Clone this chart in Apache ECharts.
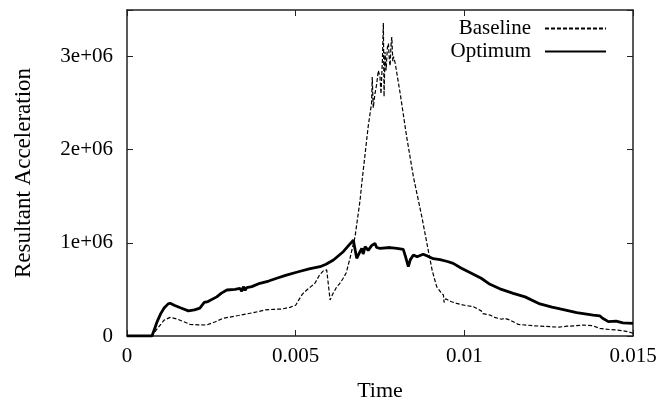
<!DOCTYPE html>
<html>
<head>
<meta charset="utf-8">
<script src="https://cdn.jsdelivr.net/npm/echarts@6/dist/echarts.min.js"></script>
<style>
  html, body {margin: 0; padding: 0; background: #fff;}
  #chart {width: 661px; height: 411px;}
</style>
</head>
<body>
<div id="chart"></div>
<script>
// time (s) and resultant acceleration (units of 1e6)
const baselineTime = [
    0, 0.00074, 0.0009, 0.0011, 0.00128, 0.0015, 0.00187, 0.0021, 0.00236, 0.0026,
    0.00285, 0.0033, 0.00374, 0.0041, 0.00434, 0.0046, 0.00483, 0.005, 0.00508, 0.0052,
    0.00533, 0.00545, 0.00557, 0.0057, 0.00582, 0.00592, 0.00597, 0.00602, 0.0061, 0.00622,
    0.0063, 0.00641, 0.0065, 0.00661, 0.00676, 0.00691, 0.00696, 0.00715, 0.00725, 0.00727,
    0.0073, 0.00735, 0.0074, 0.00745, 0.0075, 0.00753, 0.00757, 0.0076, 0.00762, 0.00765,
    0.00768, 0.00772, 0.00775, 0.00778, 0.0078, 0.00783, 0.00785, 0.00788, 0.0079, 0.00795,
    0.0081, 0.00829, 0.00849, 0.00874, 0.00893, 0.00905, 0.00918, 0.0093, 0.00938, 0.0094,
    0.00945, 0.0096, 0.00977, 0.01, 0.01027, 0.0104, 0.0105, 0.01055, 0.0107, 0.01076,
    0.0109, 0.0111, 0.0112, 0.01135, 0.0116, 0.01205, 0.01254, 0.0128, 0.01304, 0.0133,
    0.01353, 0.0138, 0.01402, 0.0143, 0.01452, 0.0148, 0.015
];
const baselineAcc = [
    0, 0, 0.08, 0.17, 0.20, 0.18, 0.125, 0.12, 0.118, 0.15,
    0.19, 0.22, 0.25, 0.28, 0.286, 0.29, 0.308, 0.33, 0.38, 0.45,
    0.494, 0.53, 0.566, 0.65, 0.70, 0.71, 0.55, 0.386, 0.45, 0.53,
    0.56, 0.62, 0.68, 0.834, 1.066, 1.46, 1.64, 2.25, 2.5, 2.78,
    2.45, 2.6, 2.7, 2.85, 2.78, 2.6, 2.95, 3.36, 2.57, 3.05,
    2.85, 3.1, 3.14, 2.95, 2.9, 3.15, 3.21, 2.95, 3.0, 2.93,
    2.6, 2.14, 1.71, 1.28, 0.92, 0.70, 0.53, 0.47, 0.44, 0.36,
    0.40, 0.37, 0.35, 0.33, 0.315, 0.29, 0.27, 0.24, 0.23, 0.225,
    0.20, 0.18, 0.19, 0.172, 0.125, 0.11, 0.10, 0.095, 0.105, 0.11,
    0.118, 0.11, 0.082, 0.07, 0.064, 0.05, 0.03
];
const optimumTime = [
    0, 0.00074, 0.0008, 0.0009, 0.001, 0.0011, 0.00122, 0.00128, 0.0014, 0.0016,
    0.00182, 0.002, 0.00216, 0.00229, 0.0024, 0.00266, 0.0028, 0.00296, 0.0032, 0.00335,
    0.0034, 0.00345, 0.0035, 0.00355, 0.0037, 0.00394, 0.0042, 0.00444, 0.0047, 0.00508,
    0.0054, 0.00572, 0.0059, 0.00612, 0.00641, 0.00671, 0.00675, 0.00681, 0.0069, 0.00696,
    0.007, 0.00706, 0.00715, 0.00725, 0.00735, 0.0074, 0.0075, 0.0078, 0.008, 0.00819,
    0.00825, 0.00834, 0.0084, 0.00849, 0.0086, 0.00878, 0.0089, 0.00908, 0.00928, 0.0095,
    0.00967, 0.0099, 0.01012, 0.0105, 0.01076, 0.0111, 0.01145, 0.0118, 0.01224, 0.0126,
    0.01284, 0.01333, 0.01382, 0.01402, 0.0141, 0.01427, 0.0145, 0.0147, 0.015
];
const optimumAcc = [
    0, 0, 0.06, 0.16, 0.24, 0.30, 0.345, 0.352, 0.33, 0.30,
    0.27, 0.28, 0.30, 0.36, 0.37, 0.42, 0.46, 0.494, 0.50, 0.51,
    0.48, 0.53, 0.49, 0.52, 0.53, 0.566, 0.59, 0.62, 0.65, 0.69,
    0.72, 0.744, 0.77, 0.816, 0.905, 1.03, 0.95, 0.834, 0.90, 0.94,
    0.88, 0.96, 0.92, 0.97, 0.995, 0.95, 0.94, 0.95, 0.94, 0.93,
    0.86, 0.744, 0.82, 0.87, 0.85, 0.877, 0.86, 0.83, 0.82, 0.80,
    0.78, 0.73, 0.69, 0.62, 0.555, 0.50, 0.458, 0.42, 0.344, 0.31,
    0.29, 0.25, 0.225, 0.215, 0.19, 0.154, 0.16, 0.14, 0.136
];
const xTicks = [0, 0.005, 0.01, 0.015];
const yTicks = [0, 1e6, 2e6, 3e6];

const font = 'Liberation Serif';
const frameColor = '#222';

const pairs = (ts, vs) => ts.map((t, i) => [t, vs[i] * 1e6]);

const yLabel = v => {
    if (yTicks.indexOf(v) < 0) return '';
    return v === 0 ? '0' : (v / 1e6) + 'e+06';
};
const xLabel = v => xTicks.indexOf(v) < 0 ? '' : String(v);

const axisBase = {
    type: 'value',
    splitLine: {show: false},
    axisLine: {show: true, onZero: false, lineStyle: {color: frameColor, width: 1.5}},
    axisTick: {show: true, inside: true, length: 6, lineStyle: {color: frameColor, width: 1}},
};

const legendBase = {
    right: 54, align: 'right', padding: 0,
    itemWidth: 61, itemHeight: 10, itemGap: 0,
    itemStyle: {opacity: 0},
    textStyle: {fontFamily: font, fontSize: 21, color: '#000', padding: [0, 9, 0, 0]}
};

const myChart = echarts.init(document.getElementById('chart'));
myChart.setOption({
    animation: false,
    textStyle: {fontFamily: font, color: '#000'},
    grid: {left: 127, right: 28, top: 10, bottom: 75},
    legend: [
        Object.assign({}, legendBase, {data: ['Baseline'], top: 18}),
        Object.assign({}, legendBase, {data: ['Optimum'], top: 41})
    ],
    xAxis: [
        Object.assign({}, axisBase, {
            position: 'bottom', min: 0, max: 0.015, interval: 0.005,
            name: 'Time', nameLocation: 'middle', nameGap: 44,
            nameTextStyle: {fontFamily: font, fontSize: 22, color: '#000'},
            axisLabel: {fontFamily: font, fontSize: 21, color: '#000', margin: 10, formatter: xLabel}
        }),
        Object.assign({}, axisBase, {
            position: 'top', min: 0, max: 0.015, interval: 0.005,
            axisLabel: {show: false}
        })
    ],
    yAxis: [
        Object.assign({}, axisBase, {
            position: 'left', min: 0, max: 3.5e6, interval: 1e6,
            name: 'Resultant Acceleration', nameLocation: 'middle', nameGap: 92,
            nameTextStyle: {fontFamily: font, fontSize: 23, color: '#000'},
            axisLabel: {fontFamily: font, fontSize: 21, color: '#000', margin: 14, formatter: yLabel}
        }),
        Object.assign({}, axisBase, {
            position: 'right', min: 0, max: 3.5e6, interval: 1e6,
            axisLabel: {show: false}
        })
    ],
    series: [
        {
            name: 'Baseline',
            type: 'line',
            xAxisIndex: 0, yAxisIndex: 0,
            showSymbol: false, symbol: 'none',
            lineStyle: {color: '#000', width: 1.2, type: [4, 2]},
            itemStyle: {color: '#000'},
            data: pairs(baselineTime, baselineAcc)
        },
        {
            name: 'Optimum',
            type: 'line',
            xAxisIndex: 0, yAxisIndex: 0,
            showSymbol: false, symbol: 'none',
            lineStyle: {color: '#000', width: 2.8},
            itemStyle: {color: '#000'},
            data: pairs(optimumTime, optimumAcc)
        }
    ]
});
</script>
</body>
</html>
